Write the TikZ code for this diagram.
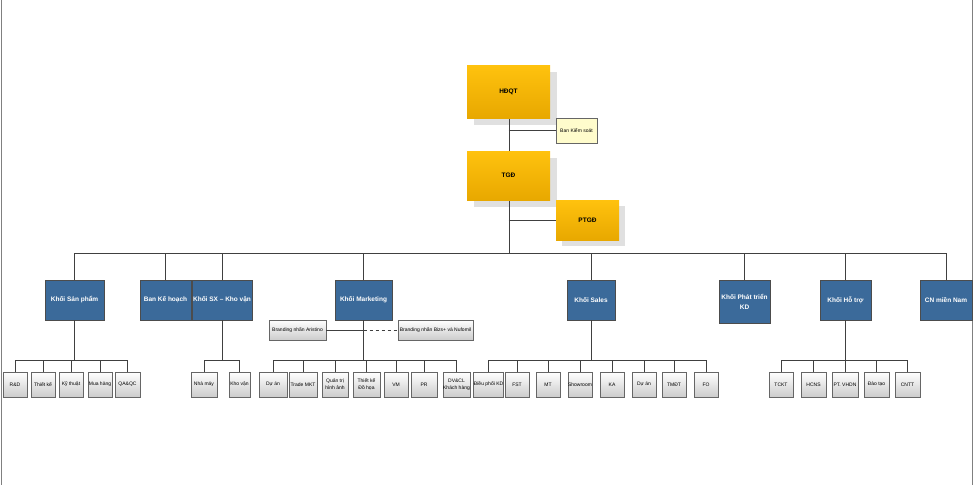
\documentclass[tikz,border=0pt]{standalone}
\usepackage{fontspec}
\setmainfont{Liberation Sans}
\usetikzlibrary{positioning}
\definecolor{goldtop}{HTML}{FFC20E}
\definecolor{goldbot}{HTML}{E8A800}
\definecolor{steel}{HTML}{3B6A9A}
\begin{document}
\begin{tikzpicture}[x=1pt,y=-1pt]
  \tikzstyle{gold}=[rectangle, draw=none, top color=goldtop, bottom color=goldbot, inner sep=0pt, font=\fontsize{6.5}{7}\selectfont\bfseries]
  \tikzstyle{shade}=[fill=black!12]
  \tikzstyle{unit}=[rectangle, draw=black!70, fill=steel, text=white, inner sep=1pt, align=center, font=\fontsize{6.5}{7}\selectfont\bfseries, minimum height=40pt]
  \tikzstyle{sub}=[rectangle, draw=black!60, thick, top color=white, bottom color=black!20, inner sep=0pt, align=center, font=\fontsize{5}{5}\selectfont, minimum height=25pt]
  \tikzstyle{link}=[draw=black!75, thick]
  \useasboundingbox (0,0) rectangle (974,485);
  \draw[black!50] (1,0) -- (1,485) (972,0) -- (972,485);
  % top
  \fill[shade] (474,72) rectangle (557,125);
  \fill[shade] (474,158) rectangle (557,207);
  \fill[shade] (562,206) rectangle (625,246);
  \coordinate (bus) at (509,253);
  \draw[link] (509,118) -- (bus);
  \node[gold, minimum width=83pt, minimum height=53pt] (hdqt) at (508.5,91.5) {HĐQT};
  \node[gold, minimum width=83pt, minimum height=49pt] (tgd) at (508.5,175.5) {TGĐ};
  \node[gold, minimum width=63pt, minimum height=40pt] (ptgd) at (587.5,220) {PTGĐ};
  \node[rectangle, draw=black!60, fill=yellow!20, inner sep=1pt, minimum width=41pt, minimum height=25pt, font=\fontsize{5}{5}\selectfont] (bks) at (576.5,130.5) {Ban Kiểm soát};
  \path[link] (hdqt.south |- bks.west) -- (bks.west)
    (tgd.south |- ptgd.west) -- (ptgd.west);
  % level 2
  \node[unit, minimum width=59pt] (sp) at (74.5,300) {Khối Sản phẩm};
  \node[unit, minimum width=51pt] (kh) at (165.5,300) {Ban Kế hoạch};
  \node[unit, minimum width=50pt] (sx) at (222,300) {Khối SX – Kho vận};
  \node[unit, minimum width=57pt] (mkt) at (363.5,300) {Khối Marketing};
  \node[unit, minimum width=48pt] (sales) at (591,300) {Khối Sales};
  \node[unit, minimum width=51pt, minimum height=43pt] (ptkd) at (744.5,301.5) {Khối Phát triển\\[3pt]KD};
  \node[unit, minimum width=51pt] (ht) at (845.5,300) {Khối Hỗ trợ};
  \node[unit, minimum width=52pt] (cn) at (946,300) {CN miền Nam};
  \draw[link] (sp.north |- bus) -- (cn.north |- bus);
  \foreach \n in {sp,kh,sx,mkt,sales,ptkd,ht,cn}
    \draw[link] (\n.north |- bus) -- (\n.north);
  % branding
  \node[sub, minimum width=57pt, minimum height=20pt] (bra) at (297.5,330) {Branding nhãn Aristino};
  \node[sub, minimum width=75pt, minimum height=20pt] (brb) at (435.5,330) {Branding nhãn Bizs+ và Nufomil};
  \draw[link] (bra.east) -- (mkt.south |- bra.east);
  \draw[link, dashed] (mkt.south |- bra.east) -- (brb.west);
  % level 3
  \foreach \name/\x/\w/\t in {rd/15/24/R\&D, tk/43/24/Thiết kế, kt/71/24/Kỹ thuật, mh/100/24/Mua hàng, qa/127.5/25/QA\&QC,
      nm/204/26/Nhà máy, kv/239.5/21/Kho vận,
      da/273/28/Dự án, tm/303/28/Trade MKT, qt/335/26/Quản trị\\[2pt]hình ảnh, dh/366.5/27/Thiết kế\\[2pt]Đồ họa, vm/396/24/VM, pr/424/26/PR, dv/456.5/27/DV\&CL\\[2pt]Khách hàng,
      dp/488.5/21/Điều phối KD, fs/517/24/FST, mt/548/24/MT, sr/580/24/Showroom, ka/612/24/KA, ds/644/24/Dự án, td/674/24/TMĐT, fo/706/24/FO,
      tc/781/24/TCKT, hc/813.5/25/HCNS, pt/845/26/PT. VHDN, dt/876.5/25/Đào tạo, it/907.5/25/CNTT}
    \node[sub, minimum width=\w pt] (\name) at (\x,384.5) {\t};
  % level 3 buses
  \foreach \p/\a/\b in {sp/rd/qa, sx/nm/kv, mkt/da/dv, sales/dp/fo, ht/tc/it}{
    \draw[link] (\p.south) -- (\p.south |- 0,360);
    \draw[link] (\a.north |- 0,360) -- (\b.north |- 0,360);
  }
  \foreach \n in {rd,tk,kt,mh,qa,nm,kv,da,tm,qt,dh,vm,pr,dv,dp,fs,mt,sr,ka,ds,td,fo,tc,hc,pt,dt,it}
    \draw[link] (\n.north |- 0,360) -- (\n.north);
\end{tikzpicture}
\end{document}
